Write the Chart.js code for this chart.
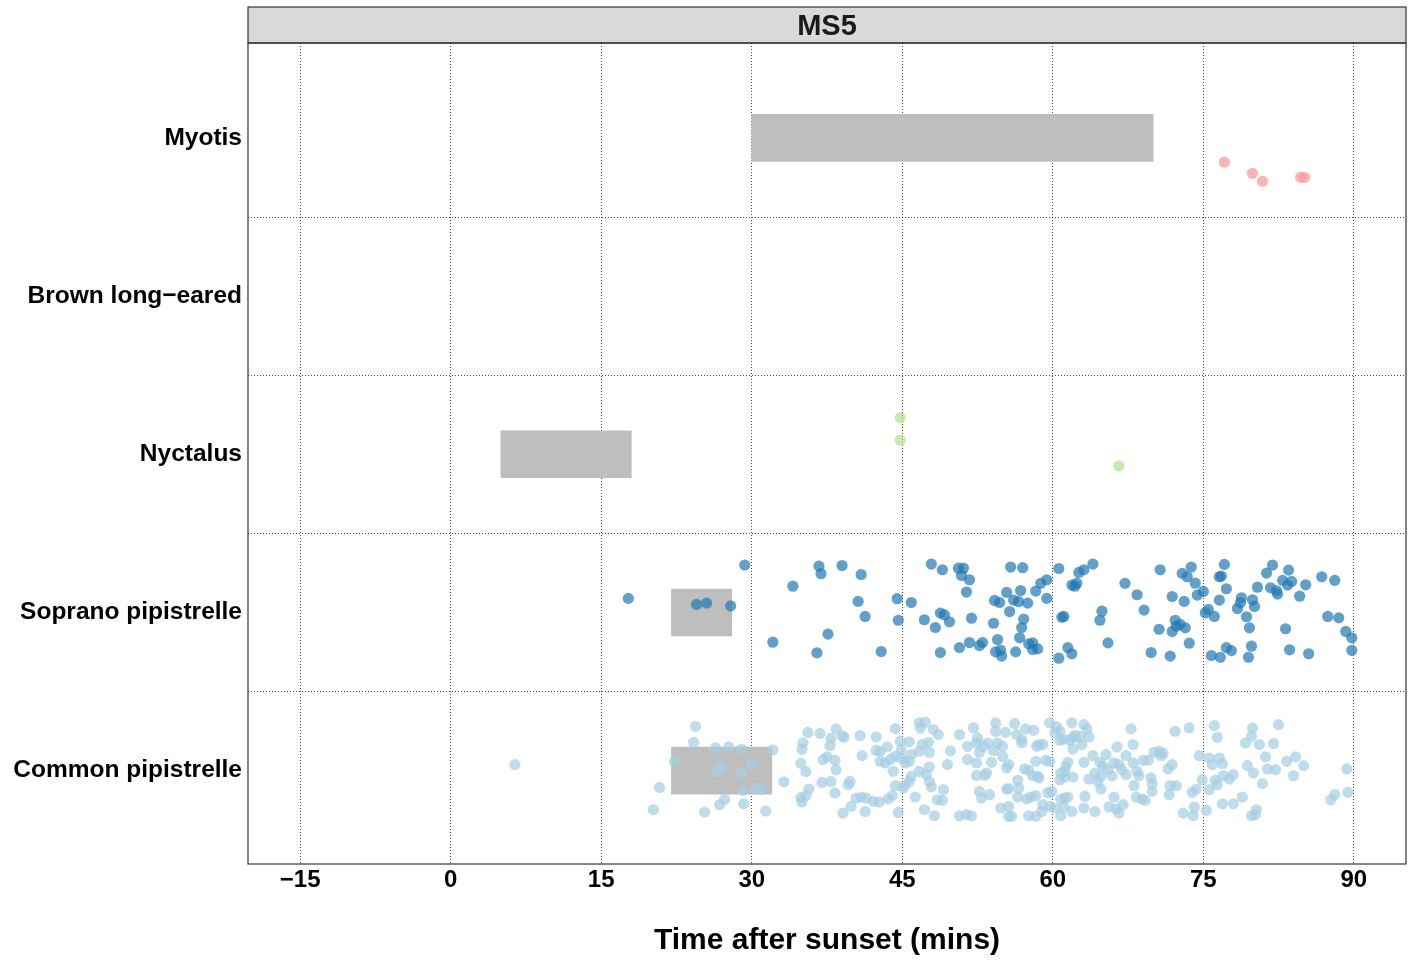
<!DOCTYPE html>
<html>
<head>
<meta charset="utf-8">
<script src="https://cdn.jsdelivr.net/npm/chart.js@4.4.0/dist/chart.umd.min.js"></script>
<style>
  html, body { margin: 0; padding: 0; background: #fff; }
</style>
</head>
<body>
<canvas id="batChart" width="1416" height="962"></canvas>
<script>
// species, bottom to top (y = 1..5)
var species = ['Common pipistrelle', 'Soprano pipistrelle', 'Nyctalus', 'Brown long\u2212eared', 'Myotis'];
var speciesColours = ['rgba(166,206,227,0.72)', 'rgba(31,120,180,0.7)', 'rgba(178,223,138,0.7)', 'rgba(51,160,44,0.7)', 'rgba(251,154,153,0.75)'];

// emergence windows (mins after sunset), null = none
var windowStart = [22, 22, 5, null, 30];
var windowEnd = [32, 28, 18, null, 70];

var xTicks = [-15, 0, 15, 30, 45, 60, 75, 90];

// calls: [mins after sunset, vertical jitter]
var myotisCalls = [[77.1,-0.154],[79.9,-0.224],[80.9,-0.274],[84.7,-0.249],[85.1,-0.249]];

var nyctalusCalls = [[44.8,0.23],[44.8,0.089],[66.6,-0.074]];

var brownCalls = [];

var sopranoCalls = [
  [17.7,0.089],[24.5,0.051],[25.5,0.059],[27.9,0.042],[29.3,0.30],[34.1,0.166],[32.1,-0.188],
  [36.7,0.293],[36.9,0.245],[39.0,0.297],[40.9,0.24],[40.6,0.07],[41.3,-0.025],[37.6,-0.137],
  [36.5,-0.255],[42.9,-0.247],[44.5,0.087],[44.6,-0.049],[45.9,0.063],[47.9,0.306],[49.0,0.27],
  [50.6,0.28],[51.1,0.28],[50.9,0.234],[51.7,0.207],[51.4,0.129],[47.2,-0.046],[48.3,-0.095],
  [48.8,-0.004],[49.2,-0.015],[49.7,-0.059],[51.9,-0.036],[48.8,-0.253],[50.7,-0.222],[51.7,-0.19],
  [52.7,-0.209],[53.0,-0.19],[54.1,-0.068],[54.5,-0.171],[54.3,-0.249],[54.8,-0.238],[54.9,-0.276],
  [56.3,-0.249],[56.7,-0.16],[56.9,-0.095],[57.1,-0.042],[55.7,0.006],[54.2,0.076],[54.7,0.063],
  [55.4,0.127],[56.1,0.078],[56.6,0.068],[56.8,0.139],[57.5,0.059],[58.3,0.135],[58.8,0.184],
  [59.4,0.207],[59.4,0.089],[55.8,0.287],[57.0,0.283],[57.6,-0.198],[58.0,-0.192],[58.0,-0.234],
  [58.5,-0.23],[60.6,0.278],[62.6,0.253],[63.1,0.27],[64.0,0.306],[61.9,0.173],[62.2,0.166],
  [62.4,0.185],[60.9,-0.03],[61.1,-0.025],[64.9,0.008],[64.7,-0.049],[61.5,-0.222],[61.9,-0.261],
  [60.6,-0.289],[65.5,-0.192],[67.2,0.184],[68.4,0.112],[69.1,0.015],[70.7,0.27],[72.9,0.247],
  [73.4,0.226],[73.8,0.287],[74.2,0.185],[71.9,0.101],[73.1,0.07],[74.4,0.11],[75.0,0.133],
  [70.6,-0.106],[72.2,-0.049],[72.3,-0.087],[71.9,-0.12],[73.2,-0.097],[72.7,-0.075],[73.6,-0.194],
  [69.8,-0.253],[71.7,-0.276],[75.2,-0.002],[75.5,0.019],[76.1,-0.025],[76.6,0.226],[76.8,0.23],
  [77.1,0.304],[77.3,0.15],[76.6,0.078],[75.8,-0.272],[76.7,-0.283],[77.3,-0.222],[77.8,-0.241],
  [78.4,0.025],[78.7,0.061],[78.8,0.093],[79.3,-0.027],[79.6,-0.097],[79.9,0.08],[80.1,0.038],
  [79.8,-0.213],[79.5,-0.283],[80.4,0.16],[81.3,0.249],[81.9,0.3],[81.7,0.156],[82.3,0.137],
  [82.4,0.116],[82.9,0.203],[83.5,0.268],[83.4,0.173],[83.8,0.196],[84.6,0.103],[85.2,0.175],
  [83.2,-0.103],[83.6,-0.236],[85.5,-0.261],[86.8,0.226],[88.1,0.203],[87.4,-0.025],[88.5,-0.034],
  [89.2,-0.12],[89.8,-0.16],[89.8,-0.239]
];

var commonCalls = [
  [6.4,0.038],[24.4,0.28],[24.2,0.179],[22.3,0.057],[20.8,-0.106],[20.2,-0.247],[25.3,-0.262],
  [26.4,0.144],[27.7,0.15],[29.0,0.137],[27.0,0.019],[26.5,-0.006],[29.0,-0.017],[30.0,0.038],
  [32.1,0.131],[27.3,-0.182],[26.8,-0.215],[29.2,-0.209],[29.1,-0.125],[30.4,-0.112],[31.0,-0.12],
  [31.4,-0.255],[33.2,-0.07],[34.9,-0.171],[35.0,-0.198],[35.7,-0.116],[35.4,-0.158],[35.4,-0.006],
  [34.9,0.046],[35.0,0.135],[35.1,0.175],[35.6,0.242],[36.8,0.236],[37.9,0.204],[38.4,0.264],
  [37.8,0.158],[37.1,0.07],[37.5,0.087],[38.3,0.065],[38.4,0.006],[37.0,-0.074],[37.9,-0.068],
  [38.3,-0.141],[39.0,0.222],[39.2,0.211],[39.8,-0.068],[39.6,-0.089],[40.8,0.222],[41.0,0.095],
  [39.1,-0.268],[39.9,-0.226],[40.4,-0.173],[40.9,-0.167],[41.4,-0.173],[42.1,-0.194],[42.7,-0.198],
  [41.3,-0.258],[43.6,-0.179],[44.0,-0.158],[44.6,-0.264],[42.4,0.213],[44.3,0.266],[42.4,0.128],
  [42.8,0.122],[43.5,0.15],[42.8,0.059],[43.3,0.049],[43.8,0.07],[44.3,0.09],[44.8,0.185],
  [44.9,0.133],[44.9,0.08],[45.3,0.049],[45.7,0.059],[45.7,0.182],[45.9,0.101],[46.7,0.122],
  [47.0,0.165],[47.6,0.179],[47.7,0.116],[44.1,-0.004],[46.7,-0.004],[47.7,0.023],[47.4,-0.025],
  [45.9,-0.036],[45.7,-0.068],[45.3,-0.089],[45.1,-0.11],[44.3,-0.095],[47.7,-0.068],[47.9,-0.103],
  [46.3,-0.167],[47.2,-0.247],[48.2,-0.285],[48.5,-0.184],[49.0,-0.188],[49.1,-0.12],[49.5,0.038],
  [49.8,0.125],[46.7,0.302],[47.3,0.306],[46.8,0.27],[48.1,0.26],[48.6,0.228],[50.7,0.228],
  [52.1,0.27],[51.5,0.154],[51.5,0.07],[52.4,0.049],[52.4,-0.03],[53.2,-0.03],[53.4,-0.015],
  [53.9,0.053],[52.5,0.207],[52.4,0.175],[53.1,0.154],[52.7,0.116],[53.5,0.175],[54.3,0.302],
  [54.3,0.249],[54.5,0.175],[55.0,0.154],[55.0,0.09],[55.3,0.242],[54.1,0.128],[55.4,0.017],
  [52.7,-0.131],[52.9,-0.173],[53.7,-0.152],[50.7,-0.285],[51.4,-0.278],[51.9,-0.285],[54.8,-0.236],
  [55.4,-0.116],[55.6,-0.226],[55.6,-0.289],[56.2,0.297],[56.4,0.228],[56.9,0.196],[56.9,0.175],
  [57.3,0.264],[58.1,0.255],[55.6,0.038],[56.5,-0.061],[55.6,-0.114],[56.6,-0.11],[57.2,0.011],
  [57.6,0.002],[58.0,-0.032],[58.5,-0.036],[58.6,-0.046],[58.3,0.059],[58.4,0.154],[58.6,0.165],
  [59.0,0.165],[59.3,0.065],[59.7,0.059],[59.7,0.302],[60.4,0.277],[60.2,0.239],[60.7,0.249],
  [60.7,0.192],[61.1,0.2],[61.9,0.302],[61.7,0.192],[62.0,0.207],[62.2,0.222],[62.7,0.217],
  [63.1,0.291],[63.4,0.264],[63.6,0.213],[62.0,0.137],[62.9,0.165],[61.5,0.053],[61.3,0.027],
  [61.2,-0.004],[60.8,-0.015],[60.7,-0.057],[61.2,-0.04],[62.0,-0.04],[58.3,-0.158],[57.8,-0.167],
  [57.4,-0.179],[56.5,-0.167],[55.9,-0.289],[57.6,-0.285],[58.3,-0.289],[58.9,-0.258],[59.0,-0.215],
  [59.5,-0.141],[59.9,-0.131],[59.7,-0.226],[60.2,-0.236],[60.8,-0.179],[61.2,-0.173],[61.5,-0.167],
  [60.8,-0.285],[61.1,-0.23],[61.9,-0.258],[63.1,0.053],[64.0,0.095],[63.2,-0.163],[63.1,-0.236],
  [64.2,-0.258],[63.6,-0.053],[64.2,-0.015],[64.7,0.053],[64.8,-0.036],[64.5,-0.068],[64.8,-0.116],
  [65.3,0.101],[65.0,0.027],[65.5,0.006],[65.9,-0.032],[66.1,0.049],[66.4,0.15],[66.6,0.038],
  [66.9,0.006],[67.3,-0.025],[67.3,0.095],[66.1,-0.167],[65.6,-0.23],[66.3,-0.243],[66.6,-0.268],
  [67.0,-0.215],[67.8,0.264],[68.0,0.165],[68.0,0.049],[68.4,-0.004],[68.6,-0.032],[68.1,-0.095],
  [68.3,-0.167],[68.9,-0.179],[69.2,-0.188],[69.0,0.065],[69.5,0.065],[69.8,-0.046],[69.9,-0.082],
  [69.9,-0.131],[70.1,0.116],[70.6,0.122],[70.8,0.095],[71.0,0.112],[71.5,0.011],[71.9,0.038],
  [71.6,-0.152],[71.7,-0.095],[72.3,-0.095],[72.2,0.249],[73.6,0.27],[74.6,0.095],[74.9,-0.057],
  [73.9,-0.137],[74.3,-0.116],[74.1,-0.23],[74.0,-0.285],[73.0,-0.268],[75.3,-0.251],[76.1,0.285],
  [76.4,0.211],[75.6,0.08],[75.9,0.038],[76.6,0.08],[76.9,0.044],[77.0,-0.032],[76.2,-0.061],
  [76.4,-0.089],[75.6,-0.12],[77.6,-0.053],[78.0,-0.025],[76.9,-0.209],[78.0,-0.209],[78.9,-0.167],
  [79.2,0.175],[79.8,0.217],[79.9,0.27],[80.6,0.165],[79.4,0.032],[80.0,-0.015],[81.2,0.087],
  [80.9,-0.082],[80.3,-0.247],[79.8,-0.285],[80.2,-0.278],[81.4,0.011],[82.2,0.006],[82.0,0.171],
  [82.5,0.291],[83.3,0.059],[84.2,0.087],[85.0,0.032],[84.0,-0.032],[89.3,0.011],[88.1,-0.152],
  [87.7,-0.184],[89.4,-0.137]
];

var callsBySpecies = [commonCalls, sopranoCalls, nyctalusCalls, brownCalls, myotisCalls];

var gridCol = 'rgba(0,0,0,0.72)';
var fontFam = '"Liberation Sans", Arial, Helvetica, sans-serif';

// grey strip with panel name + panel frame
var panelStrip = {
  id: 'panelStrip',
  beforeDraw: function(chart) {
    var ctx = chart.ctx, a = chart.chartArea;
    ctx.save();
    ctx.fillStyle = '#D9D9D9';
    ctx.fillRect(a.left, 7, a.right - a.left, a.top - 7);
    ctx.strokeStyle = '#333333';
    ctx.lineWidth = 1.2;
    ctx.strokeRect(a.left, 7, a.right - a.left, a.top - 7);
    ctx.fillStyle = '#1A1A1A';
    ctx.font = 'bold 29px ' + fontFam;
    ctx.textAlign = 'center';
    ctx.textBaseline = 'middle';
    ctx.fillText('MS5', (a.left + a.right) / 2, (7 + a.top) / 2 + 2);
    ctx.restore();
  },
  afterDraw: function(chart) {
    var ctx = chart.ctx, a = chart.chartArea;
    ctx.save();
    ctx.strokeStyle = '#333333';
    ctx.lineWidth = 1.2;
    ctx.strokeRect(a.left, a.top, a.right - a.left, a.bottom - a.top);
    ctx.restore();
  }
};

var datasets = [];

var barData = [];
for (var i = 0; i < species.length; i++) {
  if (windowStart[i] !== null) barData.push({ x: [windowStart[i], windowEnd[i]], y: i + 1 });
}
datasets.push({
  type: 'bar',
  indexAxis: 'y',
  data: barData,
  backgroundColor: '#BEBEBE',
  borderWidth: 0,
  barThickness: 47,
  order: 2
});

callsBySpecies.forEach(function(calls, i) {
  datasets.push({
    type: 'scatter',
    label: species[i],
    data: calls.map(function(c) { return { x: c[0], y: i + 1 + c[1] }; }),
    backgroundColor: speciesColours[i],
    borderWidth: 0,
    pointRadius: 5.6,
    order: 1
  });
});

var chart = new Chart(document.getElementById('batChart'), {
  type: 'scatter',
  data: { datasets: datasets },
  plugins: [panelStrip],
  options: {
    responsive: false,
    animation: false,
    devicePixelRatio: 1,
    events: [],
    layout: { padding: { top: 43, right: 10, left: 0, bottom: 0 } },
    plugins: { legend: { display: false }, tooltip: { enabled: false } },
    scales: {
      x: {
        type: 'linear',
        offset: false,
        min: -20.2,
        max: 95.2,
        afterBuildTicks: function(s) { s.ticks = xTicks.map(function(v) { return { value: v }; }); },
        afterFit: function(s) { s.height = 98; },
        ticks: {
          color: '#000',
          font: { family: fontFam, size: 24, weight: 'bold' },
          padding: 2,
          maxRotation: 0,
          autoSkip: false,
          callback: function(v) { return v < 0 ? '\u2212' + Math.abs(v) : String(v); }
        },
        grid: { color: gridCol, lineWidth: 1, drawTicks: false, offset: false },
        border: { display: false, dash: [1, 2] },
        title: {
          display: true,
          text: 'Time after sunset (mins)',
          color: '#000',
          font: { family: fontFam, size: 30, weight: 'bold' },
          padding: { top: 0, bottom: 3 }
        }
      },
      y: {
        type: 'linear',
        offset: false,
        min: 0.41,
        max: 5.6,
        afterBuildTicks: function(s) {
          var t = [];
          for (var v = 1; v <= 5; v += 0.5) t.push({ value: v });
          s.ticks = t;
        },
        afterFit: function(s) { s.width = 248; },
        ticks: {
          color: '#000',
          font: { family: fontFam, size: 24.5, weight: 'bold' },
          padding: 6,
          autoSkip: false,
          callback: function(v) { return Number.isInteger(v) ? species[v - 1] : ''; }
        },
        grid: {
          color: function(c) { return c.tick && !Number.isInteger(c.tick.value) ? gridCol : 'rgba(0,0,0,0)'; },
          lineWidth: 1,
          drawTicks: false,
          offset: false
        },
        border: { display: false, dash: [1, 2] }
      }
    }
  }
});
</script>
</body>
</html>
